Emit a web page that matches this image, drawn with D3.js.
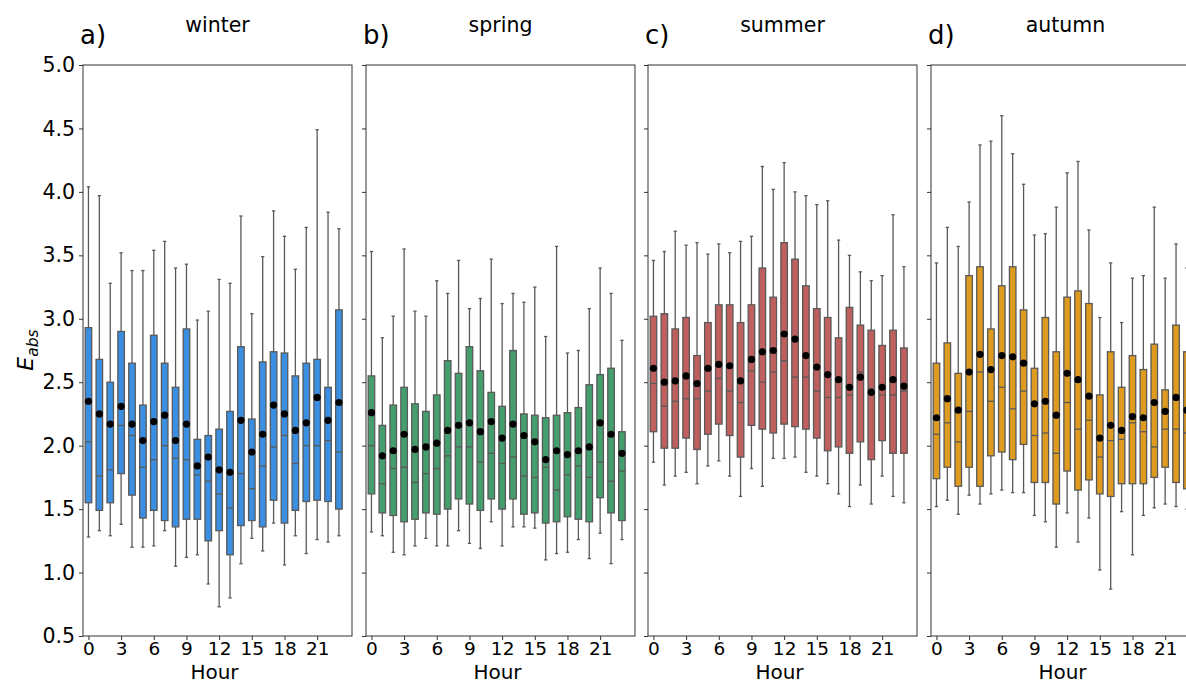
<html>
<script src="https://d3js.org/d3.v7.min.js"></script>
<body style="margin:0;background:#fff">
</body>
<script>
    // hours 0..23, one box per hour
    const hours = d3.range(24);
    const seasons = ["winter", "spring", "summer", "autumn"];
    const letters = ["a)", "b)", "c)", "d)"];
    const colors = ["#3a8fe2", "#449e6e", "#c0605e", "#df9b1f"];
    const yTicks = [0.5, 1.0, 1.5, 2.0, 2.5, 3.0, 3.5, 4.0, 4.5, 5.0];
    const xTicks = [0, 3, 6, 9, 12, 15, 18, 21];

    // winter
    const winterHi = [4.04,3.97,3.28,3.52,3.38,3.38,3.54,3.61,3.40,3.43,2.99,3.06,3.31,3.28,3.81,3.04,3.49,3.85,3.65,3.39,3.72,4.49,3.84,3.71];
    const winterQ3 = [2.93,2.68,2.50,2.90,2.65,2.32,2.87,2.65,2.46,2.92,2.05,2.08,2.13,2.27,2.78,2.21,2.66,2.74,2.73,2.55,2.65,2.68,2.46,3.07];
    const winterMed = [2.03,1.76,1.81,2.16,2.08,1.83,1.89,2.00,1.90,1.89,1.77,1.72,1.62,1.51,1.78,1.66,1.84,1.99,2.08,1.86,2.00,2.00,2.04,1.95];
    const winterQ1 = [1.55,1.49,1.55,1.78,1.61,1.43,1.49,1.41,1.36,1.42,1.42,1.25,1.33,1.14,1.37,1.41,1.36,1.57,1.39,1.49,1.56,1.57,1.56,1.50];
    const winterLo = [1.28,1.33,1.29,1.38,1.20,1.20,1.21,1.33,1.05,1.12,1.14,0.91,0.73,0.80,1.07,1.27,1.17,1.39,1.06,1.29,1.15,1.26,1.24,1.29];
    const winterMean = [2.35,2.25,2.17,2.31,2.17,2.04,2.19,2.24,2.04,2.17,1.84,1.91,1.81,1.79,2.20,1.95,2.09,2.32,2.25,2.12,2.18,2.38,2.20,2.34];

    // spring
    const springHi = [3.53,2.85,3.02,3.55,3.06,3.02,3.30,3.20,3.46,3.08,3.16,3.47,3.12,3.20,3.13,3.25,2.86,3.57,2.73,2.75,3.08,3.40,3.20,2.83];
    const springQ3 = [2.55,2.16,2.32,2.46,2.33,2.27,2.40,2.67,2.57,2.78,2.59,2.42,2.31,2.75,2.25,2.24,2.22,2.24,2.26,2.30,2.48,2.56,2.61,2.11];
    const springMed = [2.00,1.70,1.82,1.83,1.71,1.78,1.82,1.92,1.99,1.99,1.87,1.94,1.86,1.91,1.76,1.75,1.83,1.65,1.77,1.84,1.75,1.87,1.72,1.80];
    const springQ1 = [1.62,1.47,1.45,1.40,1.42,1.47,1.46,1.50,1.58,1.54,1.49,1.58,1.50,1.58,1.46,1.47,1.39,1.40,1.44,1.42,1.40,1.59,1.47,1.41];
    const springLo = [1.32,1.29,1.16,1.14,1.21,1.27,1.21,1.21,1.33,1.23,1.19,1.40,1.21,1.36,1.36,1.35,1.10,1.15,1.16,1.26,1.11,1.31,1.07,1.26];
    const springMean = [2.26,1.92,1.96,2.09,1.97,1.99,2.02,2.12,2.16,2.18,2.11,2.19,2.06,2.17,2.08,2.03,1.89,1.96,1.93,1.96,1.99,2.18,2.09,1.94];

    // summer
    const summerHi = [3.46,3.53,3.69,3.58,3.60,3.51,3.59,3.52,3.61,3.65,4.20,4.02,4.23,4.00,3.97,3.90,3.93,3.62,3.50,3.37,3.30,3.34,3.82,3.41];
    const summerQ3 = [3.02,3.04,2.92,3.01,2.71,2.97,3.11,3.11,2.97,3.11,3.40,3.17,3.60,3.47,3.26,3.08,3.01,2.85,3.09,2.95,2.91,2.79,2.91,2.77];
    const summerMed = [2.49,2.31,2.35,2.37,2.37,2.43,2.53,2.43,2.34,2.59,2.50,2.58,2.67,2.54,2.54,2.43,2.38,2.38,2.40,2.58,2.45,2.40,2.40,2.43];
    const summerQ1 = [2.11,1.98,1.98,2.06,1.97,2.09,2.17,2.08,1.91,2.16,2.13,2.10,2.17,2.15,2.13,2.06,1.96,1.99,1.94,2.03,1.89,2.04,1.94,1.94];
    const summerLo = [1.87,1.69,1.76,1.79,1.70,1.84,1.88,1.76,1.60,1.82,1.68,1.90,1.90,1.91,1.79,1.76,1.70,1.62,1.52,1.69,1.54,1.76,1.60,1.55];
    const summerMean = [2.61,2.50,2.51,2.55,2.49,2.61,2.64,2.63,2.51,2.68,2.74,2.75,2.88,2.84,2.71,2.62,2.56,2.52,2.46,2.54,2.42,2.46,2.52,2.47];

    // autumn
    const autumnHi = [3.44,3.72,3.57,3.92,4.37,4.40,4.60,4.30,4.06,3.66,3.67,3.88,4.15,4.24,3.70,3.01,3.44,2.97,3.32,3.34,3.88,3.32,3.59,3.40];
    const autumnQ3 = [2.65,2.81,2.57,3.34,3.41,2.92,3.26,3.41,3.07,2.61,3.01,2.74,3.17,3.22,3.12,2.40,2.74,2.46,2.71,2.60,2.80,2.44,2.95,2.74];
    const autumnMed = [2.09,2.18,2.03,2.27,2.58,2.35,2.46,2.29,2.43,2.08,2.10,1.94,2.34,2.13,2.20,1.91,2.04,2.05,2.18,2.11,1.99,2.13,2.13,2.10];
    const autumnQ1 = [1.74,1.83,1.68,1.83,1.68,1.92,1.95,1.89,2.01,1.71,1.71,1.54,1.80,1.65,1.73,1.62,1.60,1.70,1.70,1.70,1.75,1.83,1.71,1.66];
    const autumnLo = [1.52,1.57,1.46,1.61,1.54,1.62,1.65,1.63,1.63,1.45,1.40,1.20,1.47,1.24,1.43,1.02,0.87,1.48,1.14,1.45,1.51,1.54,1.52,1.50];
    const autumnMean = [2.22,2.37,2.28,2.58,2.72,2.60,2.71,2.70,2.65,2.33,2.35,2.24,2.57,2.52,2.39,2.06,2.16,2.12,2.23,2.22,2.34,2.27,2.38,2.28];

    const seasonData = [
        [winterLo, winterQ1, winterMed, winterQ3, winterHi, winterMean],
        [springLo, springQ1, springMed, springQ3, springHi, springMean],
        [summerLo, summerQ1, summerMed, summerQ3, summerHi, summerMean],
        [autumnLo, autumnQ1, autumnMed, autumnQ3, autumnHi, autumnMean]
    ];

    let width = 1186;
    let height = 684;
    let svg = d3.select("body").append("svg")
        .attr("width", width)
        .attr("height", height)
        .style("font-family", "DejaVu Sans");

    let panelLeft = [83, 366, 648, 931];
    let panelW = 269;
    let plotTop = 65, plotBottom = 636;
    let edge = "#595959";

    let y = d3.scaleLinear().domain([0.5, 5.0]).range([plotBottom, plotTop]);

    seasons.forEach((s, k) => {
        let x = d3.scaleLinear().domain([-0.5, 24.2]).range([panelLeft[k], panelLeft[k] + panelW]);
        let g = svg.append("g");
        let [lo, q1, med, q3, hi, mean] = seasonData[k];
        let rows = hours.map(h => ({h: h, lo: lo[h], q1: q1[h], med: med[h], q3: q3[h], hi: hi[h], mean: mean[h]}));
        let bw = x(0.3) - x(0);   // half box width
        let cw = x(0.15) - x(0);  // half cap width

        // whiskers
        g.selectAll(".wlo").data(rows).join("line")
            .attr("class", "wlo")
            .attr("x1", d => x(d.h)).attr("x2", d => x(d.h))
            .attr("y1", d => y(d.q1)).attr("y2", d => y(d.lo))
            .attr("stroke", edge).attr("stroke-width", 1.3);
        g.selectAll(".whi").data(rows).join("line")
            .attr("class", "whi")
            .attr("x1", d => x(d.h)).attr("x2", d => x(d.h))
            .attr("y1", d => y(d.q3)).attr("y2", d => y(d.hi))
            .attr("stroke", edge).attr("stroke-width", 1.3);
        // caps
        g.selectAll(".caplo").data(rows).join("line")
            .attr("class", "caplo")
            .attr("x1", d => x(d.h) - cw).attr("x2", d => x(d.h) + cw)
            .attr("y1", d => y(d.lo)).attr("y2", d => y(d.lo))
            .attr("stroke", edge).attr("stroke-width", 1.3);
        g.selectAll(".caphi").data(rows).join("line")
            .attr("class", "caphi")
            .attr("x1", d => x(d.h) - cw).attr("x2", d => x(d.h) + cw)
            .attr("y1", d => y(d.hi)).attr("y2", d => y(d.hi))
            .attr("stroke", edge).attr("stroke-width", 1.3);
        // boxes
        g.selectAll(".box").data(rows).join("rect")
            .attr("class", "box")
            .attr("x", d => x(d.h) - bw).attr("width", 2 * bw)
            .attr("y", d => y(d.q3)).attr("height", d => y(d.q1) - y(d.q3))
            .attr("fill", colors[k]).attr("stroke", edge).attr("stroke-width", 1.3);
        // medians
        g.selectAll(".med").data(rows).join("line")
            .attr("class", "med")
            .attr("x1", d => x(d.h) - bw).attr("x2", d => x(d.h) + bw)
            .attr("y1", d => y(d.med)).attr("y2", d => y(d.med))
            .attr("stroke", edge).attr("stroke-width", 1.3);
        // means
        g.selectAll(".mean").data(rows).join("circle")
            .attr("class", "mean")
            .attr("cx", d => x(d.h)).attr("cy", d => y(d.mean))
            .attr("r", 3.6).attr("fill", "#000");

        // frame
        g.append("rect")
            .attr("x", panelLeft[k]).attr("y", plotTop)
            .attr("width", panelW).attr("height", plotBottom - plotTop)
            .attr("fill", "none").attr("stroke", "#333").attr("stroke-width", 1);

        // x axis
        let xa = g.append("g").attr("transform", `translate(0,${plotBottom})`)
            .call(d3.axisBottom(x).tickValues(xTicks).tickSize(4).tickPadding(2).tickFormat(d3.format("d")));
        xa.select(".domain").remove();
        xa.selectAll("line").attr("stroke", "#333");
        xa.selectAll("text").attr("font-size", 18.5).attr("fill", "#000")
            .attr("font-family", "DejaVu Sans");

        // y axis
        let ya = g.append("g").attr("transform", `translate(${panelLeft[k]},0)`)
            .call(d3.axisLeft(y).tickValues(yTicks).tickSize(4).tickPadding(4)
                .tickFormat(k == 0 ? d3.format(".1f") : ""));
        ya.select(".domain").remove();
        ya.selectAll("line").attr("stroke", "#333");
        ya.selectAll("text").attr("font-size", 20.5).attr("fill", "#000")
            .attr("font-family", "DejaVu Sans");

        // titles
        g.append("text").attr("x", panelLeft[k] + panelW / 2).attr("y", 32)
            .attr("text-anchor", "middle").attr("font-size", 20.5).text(s);
        g.append("text").attr("x", panelLeft[k] - 3).attr("y", 44)
            .attr("font-size", 26).text(letters[k]);
        g.append("text").attr("x", panelLeft[k] + panelW / 2 - 3).attr("y", 679)
            .attr("text-anchor", "middle").attr("font-size", 20).text("Hour");
    });

    // y label
    let yl = svg.append("text")
        .attr("transform", "translate(33,350) rotate(-90)")
        .attr("text-anchor", "middle")
        .attr("font-size", 22)
        .attr("font-style", "italic");
    yl.append("tspan").text("E");
    yl.append("tspan").attr("font-size", 15.5).attr("dy", 5).text("abs");
</script>
</html>
